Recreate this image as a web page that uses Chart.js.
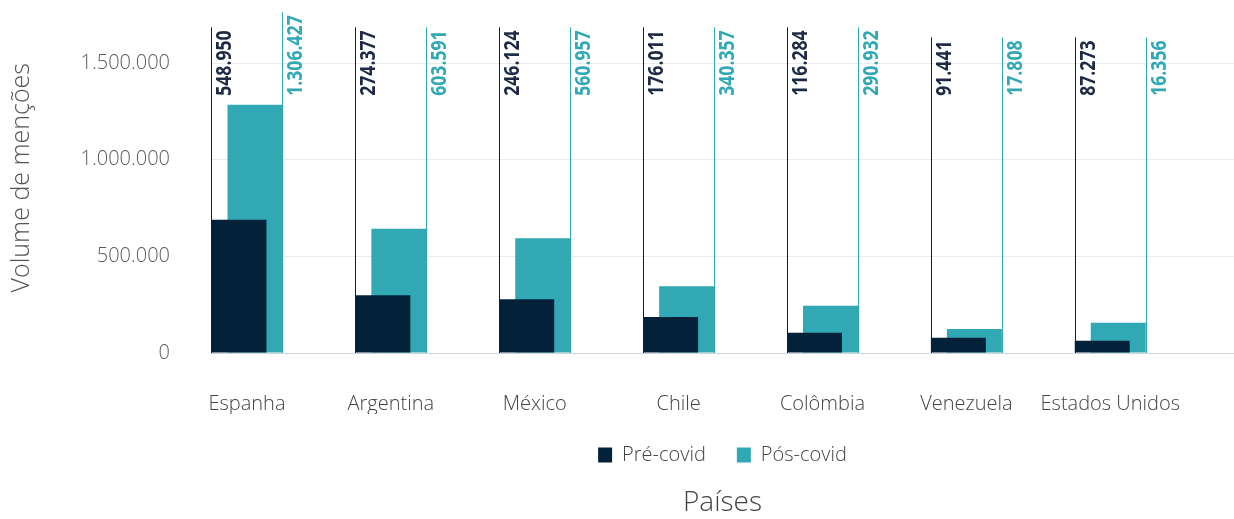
<!DOCTYPE html>
<html>
<head>
<meta charset="utf-8">
<script src="https://cdn.jsdelivr.net/npm/chart.js@4.4.1/dist/chart.umd.min.js"></script>
<style>
  html, body { margin: 0; padding: 0; background: #fff; }
  #wrap { width: 1234px; height: 519px; }
</style>
</head>
<body>
<div id="wrap"><canvas id="myChart"></canvas></div>
<script>
const countries = ['Espanha', 'Argentina', 'México', 'Chile', 'Colômbia', 'Venezuela', 'Estados Unidos'];
// bar heights as drawn in the picture
const preCovid = [689000, 299000, 278000, 186000, 105000, 79000, 63000];
const postCovid = [1284000, 643000, 593000, 345000, 244000, 124000, 156000];
// printed labels (they don't match the bar heights in the original)
const preLabels = ['548.950', '274.377', '246.124', '176.011', '116.284', '91.441', '87.273'];
const postLabels = ['1.306.427', '603.591', '560.957', '340.357', '290.932', '17.808', '16.356'];
const yMax = 1500000;
const yStep = 500000;

const DARK = '#03223a';
const TEAL = '#31a9b4';
const LABEL_DARK = '#1e2a44';

function fmt(v) {
  return String(v).replace(/\B(?=(\d{3})+(?!\d))/g, '.');
}

// where the rotated value labels start (bottom end of the text)
const labelBase = 1330000;
const labelFont = 'bold 21px "Open Sans"';
const squeeze = 0.84;

function labelItems(chart) {
  const ctx = chart.ctx;
  const items = [];
  ctx.save();
  ctx.font = labelFont;
  chart.data.datasets.forEach((ds, di) => {
    const meta = chart.getDatasetMeta(di);
    meta.data.forEach((bar, i) => {
      const edge = di === 0 ? bar.x - bar.width / 2 : bar.x + bar.width / 2;
      const text = ds.valueLabels[i];
      items.push({
        x: Math.round(edge),
        text: text,
        color: di === 0 ? LABEL_DARK : TEAL,
        lineColor: ds.backgroundColor,
        len: ctx.measureText(text).width * squeeze
      });
    });
  });
  ctx.restore();
  return items;
}

const valueLines = {
  id: 'valueLines',
  beforeDatasetsDraw(chart) {
    const ctx = chart.ctx;
    const y = chart.scales.y;
    const start = y.getPixelForValue(labelBase);
    const zero = y.getPixelForValue(0);
    labelItems(chart).forEach(it => {
      ctx.save();
      ctx.strokeStyle = it.lineColor;
      ctx.lineWidth = 1;
      ctx.beginPath();
      ctx.moveTo(it.x + 0.5, zero);
      ctx.lineTo(it.x + 0.5, start - it.len - 3);
      ctx.stroke();
      ctx.restore();
    });
  },
  afterDatasetsDraw(chart) {
    const ctx = chart.ctx;
    const start = chart.scales.y.getPixelForValue(labelBase);
    labelItems(chart).forEach(it => {
      ctx.save();
      ctx.font = labelFont;
      ctx.fillStyle = it.color;
      ctx.textAlign = 'left';
      ctx.textBaseline = 'alphabetic';
      ctx.translate(it.x + 20, start);
      ctx.rotate(-Math.PI / 2);
      ctx.scale(squeeze, 1);
      ctx.fillText(it.text, 0, 0);
      ctx.restore();
    });
  }
};

window.onload = function () {
  const ctx = document.getElementById('myChart').getContext('2d');

  new Chart(ctx, {
    type: 'bar',
    data: {
      datasets: [{
        label: 'Pré-covid',
        data: preCovid.map((v, i) => ({ x: i, y: v })),
        valueLabels: preLabels,
        backgroundColor: DARK,
        order: 0
      }, {
        label: 'Pós-covid',
        data: postCovid.map((v, i) => ({ x: i, y: v })),
        valueLabels: postLabels,
        backgroundColor: TEAL,
        order: 1
      }]
    },
    options: {
      responsive: true,
      maintainAspectRatio: false,
      animation: false,
      categoryPercentage: 0.2224,
      barPercentage: 3.4375,
      layout: { padding: { top: 63, right: 0, left: 0, bottom: 0 } },
      scales: {
        x: {
          type: 'linear',
          offset: false,
          min: -0.25,
          max: 6.86,
          afterFit(scale) { scale.height = 61; },
          grid: { display: false, drawTicks: false },
          border: { display: true, color: '#d2d2dc', width: 1 },
          ticks: {
            stepSize: 1,
            includeBounds: false,
            autoSkip: false,
            maxRotation: 0,
            padding: 39,
            color: '#444444',
            font: { family: '"Open Sans"', size: 20, weight: 300 },
            callback: v => (Number.isInteger(v) ? countries[v] : null)
          }
        },
        y: {
          min: 0,
          max: yMax,
          afterFit(scale) { scale.width = 211; },
          grid: { color: '#ebebeb', drawTicks: false },
          border: { display: false },
          ticks: {
            stepSize: yStep,
            padding: 41,
            color: '#5a5a5a',
            font: { family: '"Open Sans"', size: 20, weight: 300 },
            callback: v => fmt(v)
          },
          title: {
            display: true,
            text: 'Volume de menções',
            align: 'end',
            color: '#555555',
            padding: { top: 7, bottom: 0 },
            font: { family: '"Open Sans"', size: 25, weight: 300 }
          }
        }
      },
      plugins: {
        legend: {
          position: 'bottom',
          fullSize: false,
          labels: {
            boxWidth: 14,
            boxHeight: 15,
            padding: 31,
            color: '#444444',
            font: { family: '"Open Sans"', size: 20, weight: 300 }
          }
        },
        title: {
          display: true,
          position: 'bottom',
          fullSize: false,
          text: 'Países',
          color: '#444444',
          padding: { top: 14, bottom: 2 },
          font: { family: '"Open Sans"', size: 28, weight: 300, lineHeight: 1 }
        },
        tooltip: { enabled: false }
      }
    },
    plugins: [valueLines]
  });
};
</script>
</body>
</html>
